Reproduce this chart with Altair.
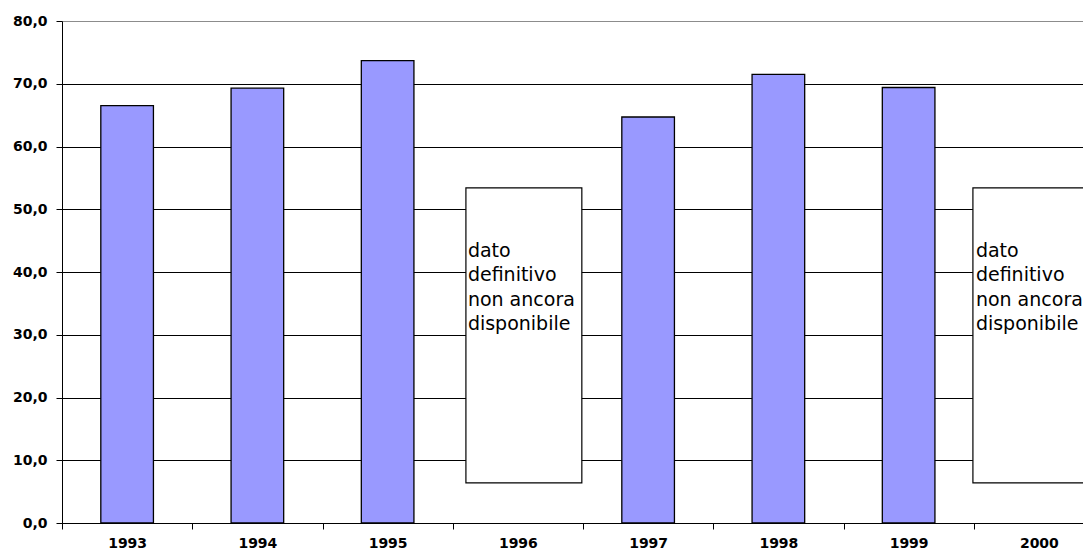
import altair as alt
import pandas as pd

years = ["1993", "1994", "1995", "1996", "1997", "1998", "1999", "2000"]
bar_years = ["1993", "1994", "1995", "1997", "1998", "1999"]
bar_values = [66.5, 69.3, 73.7, 64.7, 71.5, 69.4]
note_years = ["1996", "2000"]
note_low = [6.4, 6.4]
note_high = [53.4, 53.4]
note_text = "dato\ndefinitivo\nnon ancora\ndisponibile"
y_ticks = [0, 10, 20, 30, 40, 50, 60, 70, 80]

bars_df = pd.DataFrame({"year": bar_years, "value": bar_values})
notes_df = pd.DataFrame({"year": note_years, "value": note_low, "high": note_high,
                         "text": [note_text] * len(note_years)})

AXIS_FONT = "DejaVu Sans"

x_enc = alt.X(
    "year:N",
    scale=alt.Scale(domain=years, paddingInner=0, paddingOuter=0, range=[0, 1042]),
    axis=alt.Axis(
        title=None, labelAngle=0, labelFont=AXIS_FONT, labelFontSize=14,
        labelFontWeight="bold", labelColor="black", tickBand="extent",
        tickSize=6, tickColor="black", domainColor="black", labelPadding=18,
        labelBaseline="alphabetic", grid=False,
    ),
)
y_enc = alt.Y(
    "value:Q",
    scale=alt.Scale(domain=[0, 80]),
    axis=alt.Axis(
        title=None, values=y_ticks,
        labelExpr="replace(format(datum.value, '.1f'), '.', ',')",
        labelFont=AXIS_FONT, labelFontSize=14, labelFontWeight="bold",
        labelColor="black", tickSize=6, tickColor="black", domainColor="black",
        labelPadding=9, grid=True,
        gridColor=alt.condition("datum.value == 80", alt.value("#8c8c8c"), alt.value("black")),
        gridWidth=1,
    ),
)

bars = alt.Chart(bars_df).mark_bar(
    width=alt.RelativeBandSize(0.404), fill="#9999FF", stroke="black", strokeWidth=1.3
).encode(x=x_enc, y=y_enc)

layers = [bars]
offsets = {"1996": (6, -50), "2000": (-8, -63)}
for yr in note_years:
    box_off, text_dx = offsets[yr]
    sub = notes_df[notes_df["year"] == yr]
    box = alt.Chart(sub).mark_bar(
        width=alt.RelativeBandSize(0.89), xOffset=box_off, fill="white",
        stroke="black", strokeWidth=1.2
    ).encode(x=alt.X("year:N"), y=alt.Y("value:Q"), y2="high:Q")
    txt = alt.Chart(sub).mark_text(
        align="left", baseline="alphabetic", dx=text_dx, dy=69, lineBreak="\n",
        lineHeight=24.5, fontSize=19, font="DejaVu Sans", color="black"
    ).encode(x=alt.X("year:N"), y=alt.Y("high:Q"), text="text:N")
    layers += [box, txt]

chart = alt.layer(*layers).properties(
    width=1021, height=502,
    autosize=alt.AutoSizeParams(type="none"),
    padding={"left": 54, "top": 13, "right": 0, "bottom": 27},
).configure_view(stroke=None).configure(background="white")

chart.save("out.html", embed_options={"renderer": "svg", "actions": False})
